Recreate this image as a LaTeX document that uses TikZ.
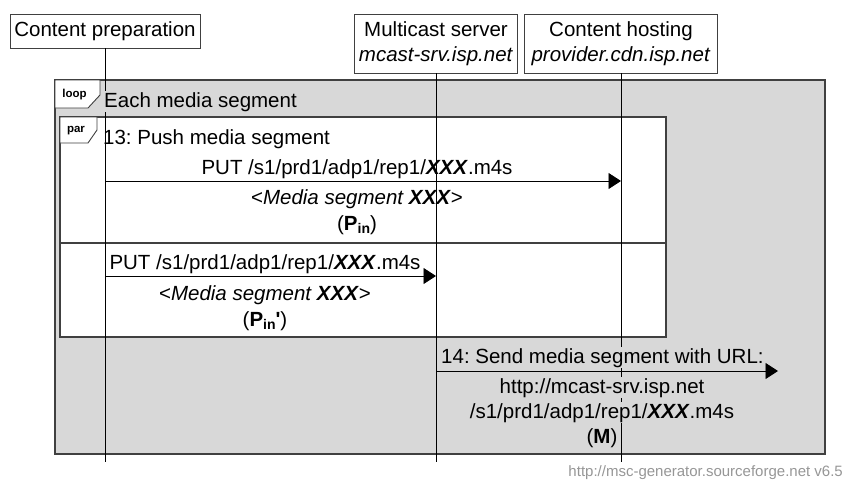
\documentclass[tikz,border=0pt]{standalone}
\usepackage{fontspec}
\setmainfont{Liberation Sans}
\usetikzlibrary{arrows.meta}
\definecolor{loopgray}{RGB}{216,216,216}
\definecolor{footgray}{RGB}{150,150,150}
\definecolor{framecol}{RGB}{64,64,64}
\frenchspacing
\newcommand{\subin}{\raisebox{-0.35ex}{\fontsize{14}{14}\selectfont\bfseries in}}
\begin{document}
\begin{tikzpicture}[x=1pt,y=-1pt,
  font=\fontsize{20.5}{25}\selectfont,
  entity/.style={draw=framecol, line width=0.9pt, fill=white, inner sep=0pt, align=center},
  life/.style={line width=0.9pt},
  msg/.style={line width=0.9pt, -{Triangle[length=12.5pt,width=16pt]}},
  lbl/.style={inner sep=0pt, anchor=base},
  glbl/.style={inner sep=1pt, anchor=base, fill=loopgray},
  frame/.style={draw=framecol, line width=1.2pt},
  tagbox/.style={draw=framecol, line width=0.9pt, fill=white},
  tagtxt/.style={font=\fontsize{11.5}{13}\selectfont\bfseries, inner sep=0pt}]
\useasboundingbox (0,0) rectangle (846,480);

% entities
\node[entity, minimum width=190pt, minimum height=34pt] (cp) at (105,31) {Content preparation};
\node[entity, minimum width=163pt, minimum height=59pt] (ms) at (436,43.5) {Multicast server\\\textit{mcast-srv.isp.net}};
\node[entity, minimum width=193pt, minimum height=59pt] (ch) at (621,43.5) {Content hosting\\\textit{provider.cdn.isp.net}};

% loop frame
\draw[frame, fill=loopgray] (55,80) rectangle (825,454);
\draw[tagbox] (55,80) -- (100,80) -- (100,95) -- (88,108) -- (55,108) -- cycle;
\node[tagtxt] (looptag) at (74.5,95) {loop};

% par frame
\draw[frame, fill=white] (60,117) rectangle (666,337);
\draw[frame] (60,243) -- (666,243);
\draw[tagbox] (60,117) -- (97,117) -- (97,130) -- (88,143) -- (60,143) -- cycle;
\node[tagtxt] (partag) at (76,131) {par};

% lifeline ends
\coordinate (cpEnd) at (cp.south |- 0,462);
\coordinate (msEnd) at (ms.south |- 0,462);
\coordinate (chEnd) at (ch.south |- 0,462);
\draw[life] (cp.south) -- (cpEnd);
\draw[life] (ms.south) -- (msEnd);
\draw[life] (ch.south) -- (chEnd);

% headers
\node[glbl, anchor=base west] (loophdr) at (103,107) {Each media segment};
\node[lbl, anchor=base west] (t13) at (103,144) {13: Push media segment};

% message 1
\coordinate (m1a) at (cp.south |- 0,181);
\coordinate (m1b) at (ch.south |- 0,181);
\draw[msg] (m1a) -- (m1b);
\node[lbl] (m1l1) at (357,174) {PUT /s1/prd1/adp1/rep1/\textbf{\textit{XXX}}.m4s};
\node[lbl] (m1l2) at (357,204) {<\textit{Media segment \textbf{XXX}}>};
\node[lbl] (m1l3) at (357,230) {(\textbf{P}\subin)};

% message 2
\coordinate (m2a) at (cp.south |- 0,276);
\coordinate (m2b) at (ms.south |- 0,276);
\draw[msg] (m2a) -- (m2b);
\node[lbl] (m2l1) at (265,269) {PUT /s1/prd1/adp1/rep1/\textbf{\textit{XXX}}.m4s};
\node[lbl] (m2l2) at (265,300) {<\textit{Media segment \textbf{XXX}}>};
\node[lbl] (m2l3) at (265,326) {(\textbf{P}\subin\textbf{\textquotesingle})};

% message 3
\coordinate (m3a) at (ms.south |- 0,371);
\coordinate (m3b) at (778,371);
\draw[msg] (m3a) -- (m3b);
\node[glbl, anchor=base west] (m3l1) at (440,363) {14: Send media segment with URL:};
\node[glbl] (m3l2) at (602,393) {http://mcast-srv.isp.net};
\node[glbl] (m3l3) at (602,418) {/s1/prd1/adp1/rep1/\textbf{\textit{XXX}}.m4s};
\node[lbl] (m3l4) at (602,443) {(\textbf{M})};

% footer
\node[inner sep=0pt, anchor=base east, font=\fontsize{15}{17}\selectfont, text=footgray] (foot) at (843,476) {http://msc-generator.sourceforge.net v6.5};
\end{tikzpicture}
\end{document}
